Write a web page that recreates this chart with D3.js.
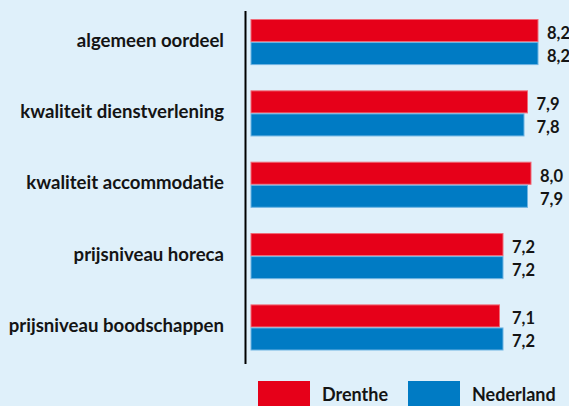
<!DOCTYPE html>
<html>
<head>
<meta charset="utf-8">
<script src="https://cdn.jsdelivr.net/npm/d3@7"></script>
<style>
  html, body { margin: 0; padding: 0; background: #dff0fa; }
  svg { display: block; font-family: Lato, "Open Sans", sans-serif; font-weight: 700; }
</style>
</head>
<body>
<div id="chart"></div>
<script>
const categories = [
    'algemeen oordeel',
    'kwaliteit dienstverlening',
    'kwaliteit accommodatie',
    'prijsniveau horeca',
    'prijsniveau boodschappen'
];
const series = ['Drenthe', 'Nederland'];
const drenthe = [8.2, 7.9, 8.0, 7.2, 7.1];
const nederland = [8.2, 7.8, 7.9, 7.2, 7.2];
const valueLabels = {
    Drenthe: ['8,2', '7,9', '8,0', '7,2', '7,1'],
    Nederland: ['8,2', '7,8', '7,9', '7,2', '7,2']
};

const colors = { Drenthe: '#e60019', Nederland: '#007bc4' };
const strokes = { Drenthe: '#f06a78', Nederland: '#6fb4e2' };

const width = 569, height = 406;

const svg = d3.select('#chart')
    .append('svg')
    .attr('width', width)
    .attr('height', height);

svg.append('rect')
    .attr('width', width)
    .attr('height', height)
    .attr('fill', '#dff0fa');

// group scale + inner series scale
const y = d3.scaleBand()
    .domain(categories)
    .range([19, 350.5])
    .paddingInner(0.354)
    .paddingOuter(0);

const ySub = d3.scaleBand()
    .domain(series)
    .range([0, y.bandwidth()]);

const x = d3.scaleLinear()
    .domain([0, 10])
    .range([251, 601]);

const rows = categories.map((c, i) => ({
    cat: c,
    values: [
        { key: 'Drenthe', v: drenthe[i], label: valueLabels.Drenthe[i] },
        { key: 'Nederland', v: nederland[i], label: valueLabels.Nederland[i] }
    ]
}));

const groups = svg.selectAll('.grp')
    .data(rows)
    .enter()
    .append('g')
    .attr('class', 'grp')
    .attr('transform', d => `translate(0,${y(d.cat)})`);

groups.selectAll('rect')
    .data(d => d.values)
    .enter()
    .append('rect')
    .attr('x', x(0))
    .attr('y', d => ySub(d.key) + 0.5)
    .attr('width', d => x(d.v) - x(0))
    .attr('height', ySub.bandwidth() - 1)
    .attr('fill', d => colors[d.key])
    .attr('stroke', d => strokes[d.key])
    .attr('stroke-width', 1);

// value labels, placed after the longest bar of the group
groups.each(function (d) {
    const maxV = d3.max(d.values, v => v.v);
    d3.select(this).selectAll('.val')
        .data(d.values)
        .enter()
        .append('text')
        .attr('class', 'val')
        .attr('x', x(maxV) + 9)
        .attr('y', v => ySub(v.key) + ySub.bandwidth() / 2 + 8.5)
        .attr('font-size', '16.5px')
        .attr('fill', '#141414')
        .text(v => v.label);
});

// category axis
const yAxis = d3.axisLeft(y).tickSize(0).tickPadding(0);
const ax = svg.append('g')
    .attr('transform', 'translate(224,0)')
    .call(yAxis);
ax.select('.domain').remove();
ax.selectAll('text')
    .attr('font-size', '18.6px')
    .attr('font-family', 'Lato, sans-serif')
    .attr('font-weight', 700)
    .attr('dy', '0.25em')
    .attr('fill', '#141414');

// vertical baseline
svg.append('line')
    .attr('x1', 245.5).attr('x2', 245.5)
    .attr('y1', 11).attr('y2', 364)
    .attr('stroke', '#000')
    .attr('stroke-width', 2);

// legend
const legendX = d3.scaleOrdinal().domain(series).range([258, 408]);
const legend = svg.selectAll('.leg')
    .data(series)
    .enter()
    .append('g')
    .attr('class', 'leg')
    .attr('transform', d => `translate(${legendX(d)},381)`);

legend.append('rect')
    .attr('width', 52)
    .attr('height', 30)
    .attr('fill', d => colors[d]);

legend.append('text')
    .attr('x', 64)
    .attr('y', 20)
    .attr('font-size', '18px')
    .attr('fill', '#141414')
    .text(d => d);
</script>
</body>
</html>
